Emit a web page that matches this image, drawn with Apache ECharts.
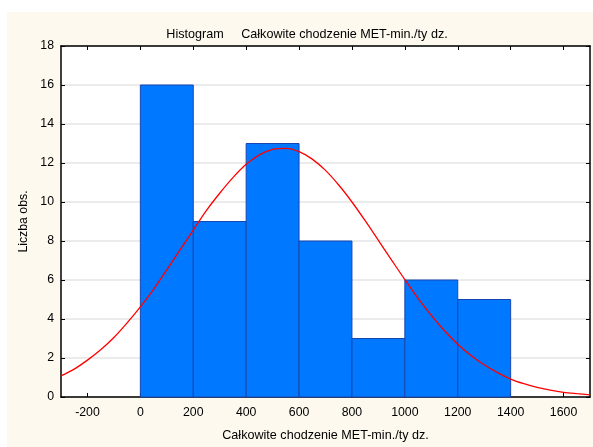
<!DOCTYPE html>
<html><head><meta charset="utf-8">
<script src="https://cdn.jsdelivr.net/npm/echarts@6/dist/echarts.min.js"></script>
<style>html,body{margin:0;padding:0;background:#fff}#c{width:593px;height:447px}</style>
</head><body><div id="c"></div>
<script>
const binStarts = [0, 200, 400, 600, 800, 1000, 1200];
const binEnds = [200, 400, 600, 800, 1000, 1200, 1400];
const counts = [16, 9, 13, 8, 3, 6, 5];
const curveX = [-300,-250,-200,-150,-100,-50,0,50,100,150,200,250,300,350,400,450,500,550,600,650,700,750,800,850,900,950,1000,1050,1100,1150,1200,1250,1300,1350,1400,1450,1500,1550,1600,1650,1700];
const curveY = [1.08,1.43,1.89,2.42,3.05,3.8,4.62,5.52,6.52,7.54,8.56,9.57,10.45,11.25,11.93,12.42,12.7,12.75,12.58,12.2,11.62,10.87,10.0,9.04,8.03,7.02,6.02,5.06,4.19,3.4,2.71,2.13,1.65,1.25,0.92,0.68,0.49,0.35,0.24,0.17,0.11];
const xTicks = [-200,0,200,400,600,800,1000,1200,1400,1600];
const titleText = 'Histogram     Całkowite chodzenie MET-min./ty dz.';
const xName = 'Całkowite chodzenie MET-min./ty dz.';
const yName = 'Liczba obs.';

const font = 'Liberation Sans, Arial, sans-serif';
const chart = echarts.init(document.getElementById('c'), null, {renderer:'canvas'});
const barData = binStarts.map((s,i)=>[s, binEnds[i], counts[i]]);
chart.setOption({
  animation:false,
  backgroundColor:'#ffffff',
  graphic:[{type:'rect', z:-10, silent:true, shape:{x:7,y:12,width:586,height:435}, style:{fill:'#fdf9ee'}}],
  title:{text:titleText, left:302, top:23, textAlign:'center', textStyle:{fontFamily:font, fontSize:12.6, fontWeight:'normal', color:'#000'}},
  grid:{left:61, right:3, top:46, bottom:48, show:true, backgroundColor:'#fff', borderWidth:0},
  xAxis:[{
    type:'value', min:-300, max:1700,
    name:xName, nameLocation:'middle', nameGap:32,
    nameTextStyle:{fontFamily:font, fontSize:12.6, color:'#000'},
    axisLine:{show:true, onZero:false, lineStyle:{color:'#000', width:1.5}},
    axisTick:{show:true, inside:true, length:4, customValues:xTicks, lineStyle:{color:'#000'}},
    axisLabel:{customValues:xTicks, formatter:v=>String(v), fontFamily:font, fontSize:12.3, color:'#000', margin:10},
    splitLine:{show:false}
  },{
    type:'value', min:-300, max:1700, position:'top',
    axisLine:{show:true, onZero:false, lineStyle:{color:'#000', width:1.5}},
    axisTick:{show:true, inside:true, length:4, customValues:xTicks, lineStyle:{color:'#000'}},
    axisLabel:{show:false}, splitLine:{show:false}
  }],
  yAxis:[{
    type:'value', min:0, max:18, interval:2,
    name:yName, nameLocation:'middle', nameGap:30,
    nameTextStyle:{fontFamily:font, fontSize:12.3, color:'#000'},
    axisLine:{show:true, onZero:false, lineStyle:{color:'#000', width:1.5}},
    axisTick:{show:true, inside:true, length:4, lineStyle:{color:'#000'}},
    axisLabel:{fontFamily:font, fontSize:12.3, color:'#000', margin:7},
    splitLine:{show:true, lineStyle:{color:'#e4e4e4', width:1.5}}
  },{
    type:'value', min:0, max:18, interval:2, position:'right',
    axisLine:{show:true, onZero:false, lineStyle:{color:'#000', width:1.5}},
    axisTick:{show:true, inside:true, length:4, lineStyle:{color:'#000'}},
    axisLabel:{show:false}, splitLine:{show:false}
  }],
  series:[{
    type:'custom', xAxisIndex:0, yAxisIndex:0, data:barData, z:2,
    encode:{x:[0,1], y:2},
    renderItem:function(params, api){
      const p0 = api.coord([api.value(0), api.value(2)]);
      const p1 = api.coord([api.value(1), 0]);
      return {type:'rect', shape:{x:p0[0], y:p0[1], width:p1[0]-p0[0], height:p1[1]-p0[1]},
        style:{fill:'#0078ff', stroke:'#1846b0', lineWidth:1}};
    }
  },{
    type:'line', xAxisIndex:0, yAxisIndex:0, z:3, smooth:0.3, symbol:'none',
    data:curveX.map((x,i)=>[x, curveY[i]]),
    lineStyle:{color:'#ff0000', width:1.3}
  }]
});
</script></body></html>
